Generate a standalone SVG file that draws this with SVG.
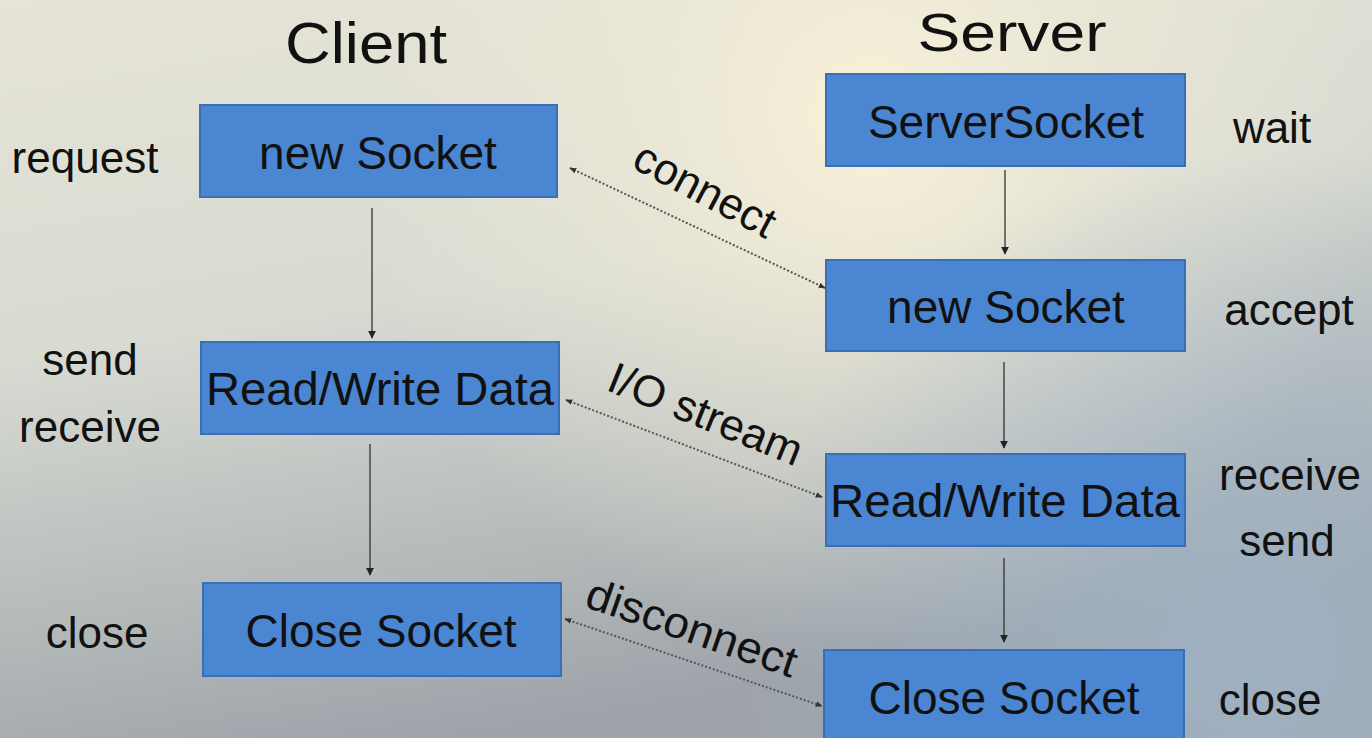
<svg xmlns="http://www.w3.org/2000/svg" width="1372" height="738" viewBox="0 0 1372 738">
<defs>
<linearGradient id="bg" x1="0" y1="0" x2="0.3" y2="1">
<stop offset="0" stop-color="#e6e4d6"/>
<stop offset="0.45" stop-color="#d8dbd2"/>
<stop offset="1" stop-color="#9ea4aa"/>
</linearGradient>
<radialGradient id="glow" cx="870" cy="120" r="520" gradientUnits="userSpaceOnUse">
<stop offset="0" stop-color="#fbf3d8" stop-opacity="0.95"/>
<stop offset="0.5" stop-color="#f0ecd8" stop-opacity="0.5"/>
<stop offset="1" stop-color="#f0ecd8" stop-opacity="0"/>
</radialGradient>
<radialGradient id="blue" cx="1250" cy="650" r="500" gradientUnits="userSpaceOnUse">
<stop offset="0" stop-color="#9fb4c8" stop-opacity="0.8"/>
<stop offset="1" stop-color="#9fb4c8" stop-opacity="0"/>
</radialGradient>
<marker id="ah" viewBox="0 0 10 10" refX="9" refY="5" markerWidth="8" markerHeight="8" markerUnits="userSpaceOnUse" orient="auto-start-reverse">
<path d="M0,0 L10,5 L0,10 z" fill="#222"/>
</marker>
<marker id="ad" viewBox="0 0 10 10" refX="9" refY="5" markerWidth="7" markerHeight="7" markerUnits="userSpaceOnUse" orient="auto-start-reverse">
<path d="M0,1 L10,5 L0,9 z" fill="#333"/>
</marker>
<style>
.box{fill:#4a86d2;stroke:#3b6fb5;stroke-width:2}
.bt{font-family:"Liberation Sans",Arial,sans-serif;font-size:46px;fill:#111;text-anchor:middle}
.lb{font-family:"Liberation Sans",Arial,sans-serif;font-size:44px;fill:#111;text-anchor:middle}
.tt{font-family:"Liberation Sans",Arial,sans-serif;font-size:58px;fill:#111;text-anchor:middle}
.v{stroke:#333;stroke-width:1.3;fill:none;marker-end:url(#ah)}
.d{stroke:#555;stroke-width:2;stroke-dasharray:2 2;fill:none;marker-start:url(#ad);marker-end:url(#ad)}
</style>
</defs>
<rect width="1372" height="738" fill="url(#bg)"/>
<rect width="1372" height="738" fill="url(#glow)"/>
<rect width="1372" height="738" fill="url(#blue)"/>

<text class="tt" x="366" y="63" textLength="162" lengthAdjust="spacingAndGlyphs">Client</text>
<text class="tt" x="1012" y="51" style="font-size:54px" textLength="189" lengthAdjust="spacingAndGlyphs">Server</text>

<g id="c1"><rect class="box" x="200" y="105" width="357" height="92"/><text class="bt" x="378" y="169">new Socket</text></g>
<g id="c2"><rect class="box" x="201" y="342" width="358" height="92"/><text class="bt" x="380" y="405" textLength="348" lengthAdjust="spacingAndGlyphs">Read/Write Data</text></g>
<g id="c3"><rect class="box" x="203" y="583" width="358" height="93"/><text class="bt" x="381" y="647">Close Socket</text></g>
<g id="s1"><rect class="box" x="826" y="74" width="359" height="92"/><text class="bt" x="1006" y="138">ServerSocket</text></g>
<g id="s2"><rect class="box" x="826" y="260" width="359" height="91"/><text class="bt" x="1006" y="323">new Socket</text></g>
<g id="s3"><rect class="box" x="826" y="454" width="359" height="92"/><text class="bt" x="1005" y="517" textLength="350" lengthAdjust="spacingAndGlyphs">Read/Write Data</text></g>
<g id="s4"><rect class="box" x="824" y="650" width="360" height="95"/><text class="bt" x="1004" y="714">Close Socket</text></g>

<g id="labels">
<text class="lb" x="85" y="173">request</text>
<text class="lb" x="90" y="375">send</text>
<text class="lb" x="90" y="442">receive</text>
<text class="lb" x="97" y="648">close</text>
<text class="lb" x="1272" y="143">wait</text>
<text class="lb" x="1289" y="325">accept</text>
<text class="lb" x="1290" y="490">receive</text>
<text class="lb" x="1287" y="556">send</text>
<text class="lb" x="1270" y="715">close</text>
</g>

<g id="connectors">
<line class="v" x1="372" y1="208" x2="372" y2="338"/>
<line class="v" x1="370" y1="444" x2="370" y2="575"/>
<line class="v" x1="1005" y1="170" x2="1005" y2="254"/>
<line class="v" x1="1004" y1="362" x2="1004" y2="448"/>
<line class="v" x1="1004" y1="558" x2="1004" y2="642"/>
<line class="d" x1="570" y1="168" x2="825" y2="288"/>
<line class="d" x1="566" y1="400" x2="822" y2="497"/>
<line class="d" x1="565" y1="619" x2="822" y2="706"/>
<text class="lb" transform="translate(698,203) rotate(28)">connect</text>
<text class="lb" transform="translate(700,428) rotate(22)">I/O stream</text>
<text class="lb" transform="translate(687,642) rotate(19)" textLength="220" lengthAdjust="spacingAndGlyphs">disconnect</text>
</g>
</svg>
